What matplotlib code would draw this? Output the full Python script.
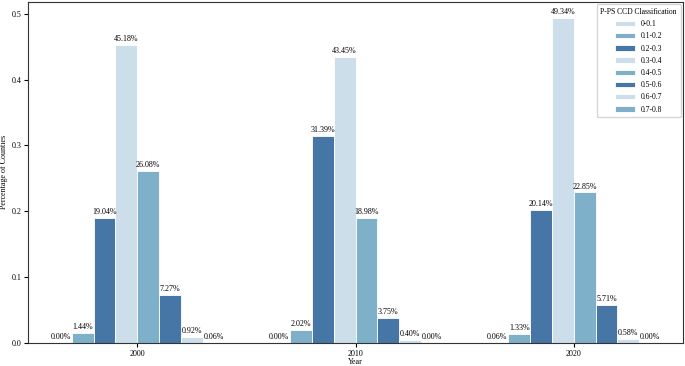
import numpy as np
import matplotlib
matplotlib.use("Agg")
import matplotlib.pyplot as plt

plt.rcParams['font.family'] = ['Liberation Serif', 'DejaVu Serif']

# Data (fraction of counties per class)
years = ['2000', '2010', '2020']
classes = ['0-0.1', '0.1-0.2', '0.2-0.3', '0.3-0.4', '0.4-0.5', '0.5-0.6', '0.6-0.7', '0.7-0.8']
pct_2000 = [0.00, 1.44, 19.04, 45.18, 26.08, 7.27, 0.92, 0.06]
pct_2010 = [0.00, 2.02, 31.39, 43.45, 18.98, 3.75, 0.40, 0.00]
pct_2020 = [0.06, 1.33, 20.14, 49.34, 22.85, 5.71, 0.58, 0.00]

values = np.array([pct_2000, pct_2010, pct_2020]) / 100.0

# light / mid / dark blues, repeated over the classes
palette = ['#cddeeb', '#7fb0ca', '#4676a6']

fig, ax = plt.subplots(figsize=(6.85, 3.66), dpi=100)

n = len(classes)
width = 0.8 / n
x = np.arange(len(years))
fs = 5.8

for i, cls in enumerate(classes):
    pos = x - 0.4 + width * (i + 0.5)
    bars = ax.bar(pos, values[:, i], width=width, color=palette[i % 3],
                  edgecolor='white', linewidth=0.6, label=cls)
    for b, v in zip(bars, values[:, i]):
        ax.text(b.get_x() + b.get_width() / 2, v + 0.003, f'{v * 100:.2f}%',
                ha='center', va='bottom', fontsize=fs)

ax.set_xlim(-0.5, 2.5)
ax.set_ylim(0, values.max() * 1.05)
ax.set_xticks(x)
ax.set_xticklabels(years)
ax.set_yticks([0.0, 0.1, 0.2, 0.3, 0.4, 0.5])
ax.tick_params(labelsize=fs, length=3, width=0.8, pad=2)
ax.set_xlabel('Year', fontsize=fs, labelpad=0)
ax.set_ylabel('Percentage of Counties', fontsize=fs, labelpad=2)
for s in ax.spines.values():
    s.set_color('#333333')
    s.set_linewidth(0.8)

leg = ax.legend(title='P-PS CCD Classification', loc='upper right', fontsize=5.5,
                title_fontsize=5.5, frameon=True, handlelength=2.6,
                borderpad=0.5, labelspacing=0.55, borderaxespad=0.3)
leg.get_frame().set_edgecolor('#cccccc')

plt.subplots_adjust(left=0.041, right=0.997, top=0.995, bottom=0.063)
plt.savefig('out.png', dpi=100)
